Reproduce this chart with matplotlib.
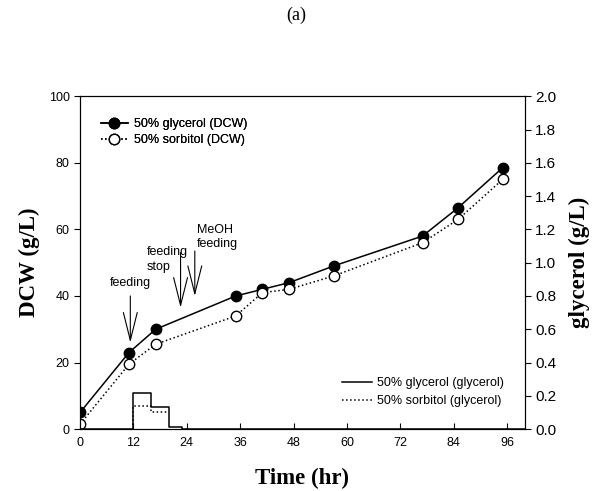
import matplotlib
matplotlib.use("Agg")
import matplotlib.pyplot as plt

# DCW data (g/L)
time_gly = [0, 11, 17, 35, 41, 47, 57, 77, 85, 95]
dcw_gly = [5, 23, 30, 40, 42, 44, 49, 58, 66.5, 78.5]
time_sor = [0, 11, 17, 35, 41, 47, 57, 77, 85, 95]
dcw_sor = [1.5, 19.5, 25.5, 34, 41, 42, 46, 56, 63, 75]

# residual glycerol (g/L), step profiles
t_step_gly = [0, 12, 12, 16, 16, 20, 20, 23, 23, 100]
glyc_gly = [0, 0, 0.22, 0.22, 0.13, 0.13, 0.01, 0.01, 0, 0]
t_step_sor = [12, 12, 16, 16, 19.5]
glyc_sor = [0.0, 0.14, 0.14, 0.10, 0.10]

sans = "Liberation Sans"
serif = "Liberation Serif"

fig = plt.figure(figsize=(5.93, 4.91), dpi=100)
ax = fig.add_axes([0.135, 0.126, 0.750, 0.678])
ax2 = ax.twinx()

l1, = ax.plot(time_gly, dcw_gly, "-", color="black", lw=1.1, marker="o",
              ms=7.5, mfc="black", mec="black", label="50% glycerol (DCW)")
l2, = ax.plot(time_sor, dcw_sor, ":", color="black", lw=1.1, marker="o",
              ms=7.5, mfc="white", mec="black", mew=1.0,
              label="50% sorbitol (DCW)")

l3, = ax2.plot(t_step_gly, glyc_gly, "-", color="black", lw=1.1,
               label="50% glycerol (glycerol)")
l4, = ax2.plot(t_step_sor, glyc_sor, ":", color="black", lw=1.1,
               label="50% sorbitol (glycerol)")

ax.set_xlim(0, 100)
ax.set_ylim(0, 100)
ax2.set_ylim(0, 2.0)
ax.set_xticks([0, 12, 24, 36, 48, 60, 72, 84, 96])
ax.set_yticks([0, 20, 40, 60, 80, 100])
ax2.set_yticks([0.0, 0.2, 0.4, 0.6, 0.8, 1.0, 1.2, 1.4, 1.6, 1.8, 2.0])
ax2.set_yticklabels(["0.0", "0.2", "0.4", "0.6", "0.8", "1.0", "1.2",
                     "1.4", "1.6", "1.8", "2.0"])

ax.tick_params(axis="x", direction="in", length=4, labelsize=9, pad=6)
ax.tick_params(axis="y", direction="out", length=4, labelsize=9)
ax2.tick_params(axis="y", direction="out", length=4, labelsize=11)
for lab in ax.get_xticklabels() + ax.get_yticklabels() + ax2.get_yticklabels():
    lab.set_fontfamily(sans)

ax.set_xlabel("Time (hr)", fontfamily=serif, fontweight="bold", fontsize=16.5,
              labelpad=13)
ax.set_ylabel("DCW (g/L)", fontfamily=serif, fontweight="bold", fontsize=16.5,
              labelpad=6)
ax2.set_ylabel("glycerol (g/L)", fontfamily=serif, fontweight="bold",
               fontsize=16.5, rotation=90, labelpad=9)

# arrows
arrow_style = dict(arrowstyle="->,head_length=2.0,head_width=0.5",
                   mutation_scale=10, color="black", lw=0.8,
                   shrinkA=0, shrinkB=0)
ax.annotate("", xy=(11.3, 26), xytext=(11.3, 40), arrowprops=arrow_style)
ax.annotate("", xy=(22.6, 36.5), xytext=(22.6, 53), arrowprops=arrow_style)
ax.annotate("", xy=(25.8, 40), xytext=(25.8, 53.5), arrowprops=arrow_style)

ax.text(11.2, 43.8, "feeding", fontfamily=sans, fontsize=9,
        ha="center", va="center")
ax.text(15, 51, "feeding\nstop", fontfamily=sans, fontsize=9,
        ha="left", va="center", linespacing=1.3)
ax.text(26.2, 57.7, "MeOH\nfeeding", fontfamily=sans, fontsize=9,
        ha="left", va="center", linespacing=1.3)

leg1 = ax.legend(handles=[l1, l2], loc="upper left",
                 bbox_to_anchor=(0.035, 0.95), frameon=False,
                 prop={"family": sans, "size": 9}, handlelength=2.2,
                 handletextpad=0.5, labelspacing=0.35, borderaxespad=0)
ax.add_artist(leg1)
ax2.legend(handles=[l3, l4], loc="lower right",
           bbox_to_anchor=(0.965, 0.05), frameon=False,
           prop={"family": sans, "size": 9}, handlelength=2.4,
           handletextpad=0.45, labelspacing=0.5, borderaxespad=0)

fig.text(0.5, 0.968, "(a)", fontfamily=serif, fontsize=13,
         ha="center", va="center")

fig.savefig("out.png", dpi=100)
